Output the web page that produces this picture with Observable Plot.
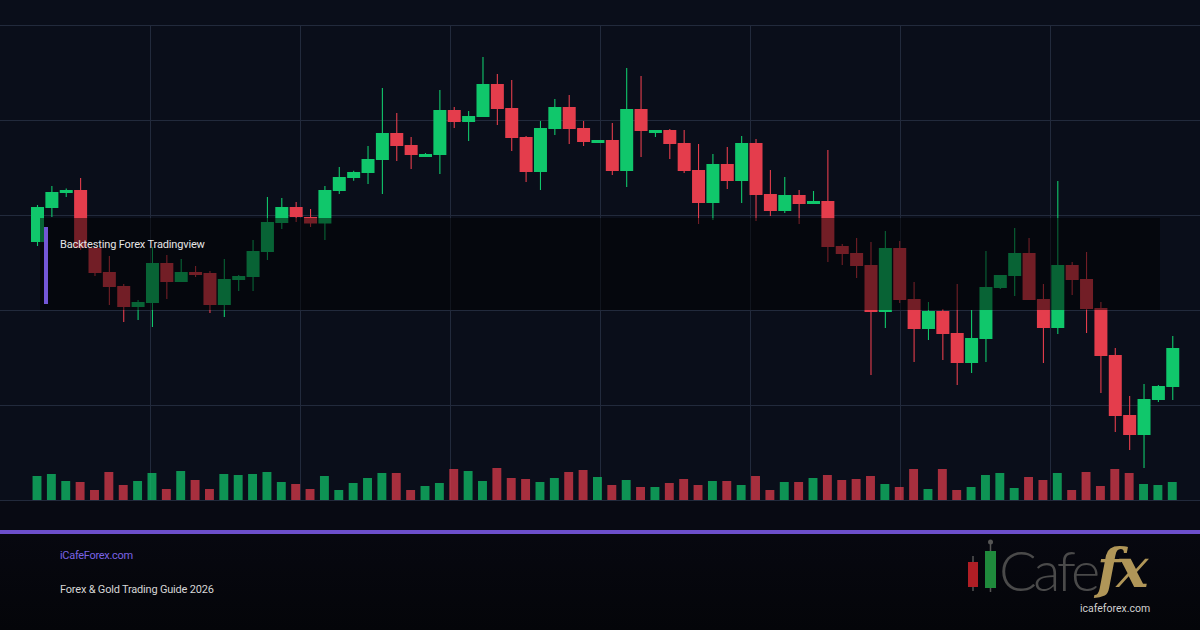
<!DOCTYPE html>
<html>
<head>
<meta charset="utf-8">
<script src="https://cdn.jsdelivr.net/npm/d3@7"></script>
<script src="https://cdn.jsdelivr.net/npm/@observablehq/plot@0.6"></script>
<style>
  html, body { margin: 0; padding: 0; }
  body { width: 1200px; height: 630px; overflow: hidden; background: #05060b; font-family: Roboto, "Noto Sans", sans-serif; }
  #wrap { position: relative; width: 1200px; height: 630px;
    background: linear-gradient(#0a0e1a 0px, #0a0e1a 500px, #080a13 500px, #080a13 530px, #070810 534px, #040509 630px); }
  #chart, #vol { position: absolute; left: 0; top: 0; }
  #box { position: absolute; left: 40px; top: 218px; width: 1120px; height: 92px; background: rgba(0,0,0,0.5); }
  #bar { position: absolute; left: 44px; top: 227px; width: 4px; height: 77px; background: #7357d6; }
  #label { position: absolute; left: 60px; top: 238px; font-size: 11px; color: #e6e6e6; letter-spacing: -0.15px; }
  #line { position: absolute; left: 0; top: 530px; width: 1200px; height: 4px; background: #6c4fcc; }
  #site { position: absolute; left: 60px; top: 549px; font-size: 11px; color: #7b63e4; letter-spacing: -0.3px; }
  #guide { position: absolute; left: 60px; top: 583px; font-size: 11px; color: #d6d6d6; letter-spacing: -0.2px; }
  #logo { position: absolute; left: 900px; top: 520px; }
</style>
</head>
<body>
<div id="wrap">
  <div id="chart"></div>
  <div id="vol"></div>
  <div id="box"></div>
  <div id="bar"></div>
  <div id="label">Backtesting Forex Tradingview</div>
  <div id="line"></div>
  <div id="site">iCafeForex.com</div>
  <div id="guide">Forex &amp; Gold Trading Guide 2026</div>
  <svg id="logo" width="300" height="110">
    <line x1="73" x2="73" y1="36" y2="71" stroke="#555" stroke-width="1.5"/>
    <rect x="68" y="42" width="10" height="25" fill="#b01e25"/>
    <line x1="90.5" x2="90.5" y1="24" y2="72" stroke="#555" stroke-width="1.5"/>
    <circle cx="90.5" cy="22" r="2.5" fill="#555"/>
    <rect x="85" y="31" width="11" height="37" fill="#1f8a3c"/>
    <text x="99" y="71" font-family="Lato, 'Noto Sans', sans-serif" font-weight="300" font-size="56" fill="#4a4a4a" letter-spacing="-3.5">Cafe</text>
    <text x="197" y="67" font-family="'DejaVu Serif', serif" font-style="italic" font-weight="bold" font-size="54" fill="#b09658" letter-spacing="-4">fx</text>
    <text x="180" y="92" font-family="Roboto, sans-serif" font-size="10.5" fill="#d0d0d0">icafeforex.com</text>
  </svg>
</div>
<script>
// ---- data ----
const open  = [1758,1792,1807,1810,1752,1728,1714,1693,1697,1737,1718,1728,1727,1695,1720,1723,1748,1777,1793,1783,1776.5,1809,1822,1827,1840,1867,1855,1843,1845,1890,1878,1883,1916,1892,1863,1828,1871,1893,1872,1857,1860,1829,1891,1867,1870,1857,1830,1797,1836,1819,1857,1806,1789,1805,1796,1799,1754,1747,1735,1688,1752,1701,1671,1689,1667,1637,1661,1712,1724,1747,1701,1672,1735,1721,1692,1645,1585,1565,1600,1613];
const high  = [1795,1814,1811.5,1822,1754,1744,1716,1700,1753,1745,1741,1734,1729,1741,1725,1760,1803,1802,1798,1791,1814,1833,1829.3,1854,1912,1887,1863,1847,1910,1893,1889,1943,1926,1920,1864,1879,1901,1905,1879,1860,1877,1932,1924,1870,1871,1870,1856,1846,1853,1864,1861,1830,1823,1810,1809,1850,1756,1762,1758,1769,1759,1718,1698,1691,1716,1690,1749,1725,1772,1762,1716,1819,1738,1748,1698,1652,1604,1616,1615,1664];
const low   = [1754,1783,1803,1750,1724,1695,1678,1680,1673,1701,1718,1723,1687,1683,1709,1709,1740,1771,1778,1773,1760,1806,1819.3,1816,1806,1839,1831,1843,1826,1872,1859,1883,1875,1849,1818,1810,1865,1856,1854,1857,1825,1813,1843,1863,1841,1827,1776,1780,1811,1797,1779,1784,1787,1776,1796,1738,1735,1722,1625,1672,1697,1638,1660,1640,1615,1627,1638,1711,1704,1700,1637,1666,1705,1667,1607,1568,1550,1532,1598,1600];
const close = [1793,1808,1810,1752,1727,1713,1693,1698,1737,1718,1728,1725,1695,1721,1724,1749,1778,1793,1783,1776.5,1810,1823,1828,1841,1867,1854,1845,1846,1890,1878,1884,1916,1891,1862,1828,1872,1893,1871,1858,1860,1829,1891,1869,1870,1856,1829,1797,1836,1819,1857,1805,1789,1805,1796,1799,1753,1746,1734,1688,1752,1700,1671,1689,1666,1637,1662,1713,1725,1747,1700,1672,1735,1720,1691,1644,1584,1565,1601,1614,1652];
const volume = [24,26,19,18,10,28,15,19,27,11,29,20,11,26,25,26,28,18,16,11,24,10,17,22,27,27,10,14,17,31,29,19,32,22,21,18,22,28,30,23,15,20,13,13,17,21,15,19,19,15,24,10,18,18,22,25,20,21,24,16,13,31,11,31,10,13,25,27,12,23,20,27,10,28,14,31,27,16,15,18];

const candles = open.map((o, i) => ({i, open: o, high: high[i], low: low[i], close: close[i], volume: volume[i], up: close[i] >= o}));

const UP = "#10c76b", DOWN = "#e43d4c";
const xDomain = [-2.575, 80.93];
const xs = d3.scaleLinear().domain(xDomain).range([0, 1200]);
const gridX = d3.range(150, 1200, 150).map(px => xs.invert(px));
const gridY = [1975, 1880, 1785, 1690, 1595, 1500];

const chart = Plot.plot({
  width: 1200, height: 501,
  margin: 0, marginBottom: 1,
  style: {background: "transparent", overflow: "visible"},
  x: {domain: xDomain, axis: null},
  y: {domain: [1500, 2000], axis: null},
  marks: [
    Plot.ruleY(gridY, {stroke: "#222a3c", strokeWidth: 1}),
    Plot.ruleX(gridX, {y1: 1975, y2: 1500, stroke: "#222a3c", strokeWidth: 1}),
    Plot.ruleX(candles, {x: "i", y1: "low", y2: "high", stroke: d => d.up ? UP : DOWN, strokeWidth: 1.1}),
    Plot.ruleX(candles, {x: "i", y1: "open", y2: "close", stroke: d => d.up ? UP : DOWN, strokeWidth: 13, strokeLinecap: "butt"})
  ]
});
document.getElementById("chart").appendChild(chart);

const vol = Plot.plot({
  width: 1200, height: 501,
  margin: 0, marginBottom: 1,
  style: {background: "transparent"},
  x: {domain: xDomain, axis: null},
  y: {domain: [0, 500], axis: null},
  marks: [
    Plot.rectY(candles, {x1: d => d.i - 0.31, x2: d => d.i + 0.31, y1: 0, y2: "volume", fill: d => d.up ? UP : DOWN, fillOpacity: 0.72})
  ]
});
document.getElementById("vol").appendChild(vol);
</script>
</body>
</html>
